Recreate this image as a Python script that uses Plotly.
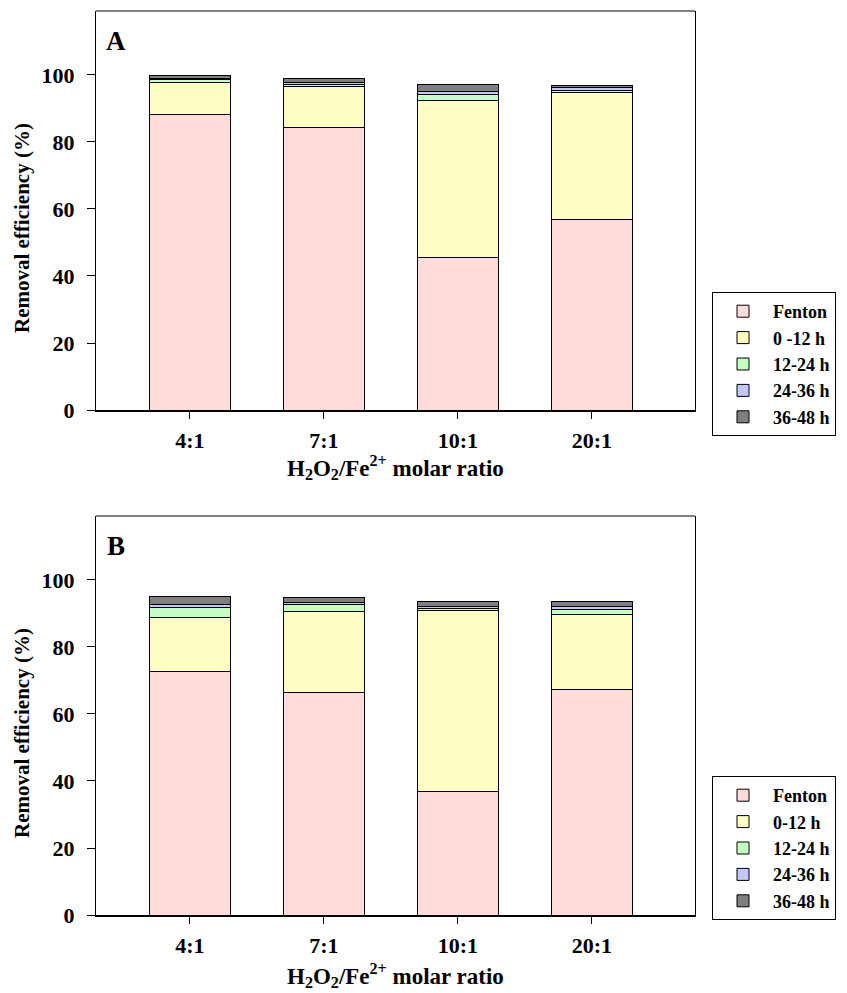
import plotly.graph_objects as go

categories = ["4:1", "7:1", "10:1", "20:1"]

series_names_a = ["Fenton", "0 -12 h", "12-24 h", "24-36 h", "36-48 h"]
series_names_b = ["Fenton", "0-12 h", "12-24 h", "24-36 h", "36-48 h"]

# Panel A values (%)
a_fenton = [88.2, 84.2, 45.4, 57.0]
a_0_12 = [9.5, 12.5, 47.1, 37.9]
a_12_24 = [1.0, 0.6, 1.8, 0.4]
a_24_36 = [0.4, 0.6, 0.9, 1.0]
a_36_48 = [0.8, 1.0, 2.1, 0.5]

# Panel B values (%)
b_fenton = [72.7, 66.3, 37.0, 67.3]
b_0_12 = [16.0, 24.4, 54.0, 22.3]
b_12_24 = [3.1, 2.1, 0.6, 1.7]
b_24_36 = [1.0, 0.5, 0.6, 0.8]
b_36_48 = [2.4, 1.6, 1.5, 1.6]

colors = ["#FFDCDC", "#FFFFC4", "#C4FFC4", "#C6C6FF", "#7F7F7F"]

FONT = "Liberation Serif, Times New Roman, serif"

fig = go.Figure()

a_series = [a_fenton, a_0_12, a_12_24, a_24_36, a_36_48]
b_series = [b_fenton, b_0_12, b_12_24, b_24_36, b_36_48]

for name, vals, col in zip(series_names_a, a_series, colors):
    fig.add_trace(go.Bar(x=categories, y=vals, name=name, marker=dict(color=col, line=dict(color="black", width=1)),
                         width=0.6, xaxis="x", yaxis="y", legend="legend"))
for name, vals, col in zip(series_names_b, b_series, colors):
    fig.add_trace(go.Bar(x=categories, y=vals, name=name, marker=dict(color=col, line=dict(color="black", width=1)),
                         width=0.6, xaxis="x2", yaxis="y2", legend="legend2"))

xdom = [96 / 847, 695 / 847]
ydom_a = [1 - 410 / 993, 1 - 11 / 993]
ydom_b = [1 - 915 / 993, 1 - 516 / 993]

tickfont = dict(family=FONT, size=22, color="black", weight="bold")

common_x = dict(domain=xdom, range=[-0.7, 3.77], showline=True, linewidth=2, linecolor="black",
                ticks="outside", ticklen=7, tickwidth=1, tickcolor="black", tickfont=tickfont,
                ticklabelstandoff=3,
                showgrid=False, zeroline=False, automargin=False)
common_y = dict(range=[0, 119.1], showline=True, linewidth=1, linecolor="black", mirror=True,
                ticks="outside", ticklen=8, tickwidth=1, tickcolor="black", tickfont=tickfont,
                ticklabelstandoff=8,
                tickvals=[0, 20, 40, 60, 80, 100], showgrid=False, zeroline=False, automargin=False)

legend_common = dict(font=dict(family=FONT, size=18, color="black", weight="bold"),
                     bordercolor="black", borderwidth=1, bgcolor="white", traceorder="normal",
                     xanchor="left", yanchor="top", itemwidth=50, tracegroupgap=0)

fig.update_layout(
    width=847, height=993,
    margin=dict(l=0, r=0, t=0, b=0),
    paper_bgcolor="white", plot_bgcolor="white",
    barmode="stack",
    font=dict(family=FONT, color="black"),
    xaxis=dict(anchor="y", **common_x),
    yaxis=dict(anchor="x", domain=ydom_a, **common_y),
    xaxis2=dict(anchor="y2", **common_x),
    yaxis2=dict(anchor="x2", domain=ydom_b, **common_y),
    legend=dict(x=712 / 847, y=1 - 292 / 993, **legend_common),
    legend2=dict(x=712 / 847, y=1 - 776 / 993, **legend_common),
    showlegend=True,
)

# top frame lines
for xr, yr in [("x domain", "y domain"), ("x2 domain", "y2 domain")]:
    fig.add_shape(type="line", xref=xr, yref=yr, x0=0, x1=1, y0=1, y1=1, line=dict(color="black", width=1))

ann_font = dict(family=FONT, size=21, color="black", weight="bold")
xt_font = dict(family=FONT, size=23, color="black", weight="bold")
xc = (96 + 695) / 2 / 847
for label, ypix in [("A", 41), ("B", 546)]:
    fig.add_annotation(text=label, x=116 / 847, y=1 - ypix / 993, xref="paper", yref="paper", showarrow=False,
                       xanchor="center", yanchor="middle",
                       font=dict(family=FONT, size=27, color="black", weight="bold"))
for ytitle, xtitle in [(1 - 228 / 993, 1 - 467 / 993), (1 - 733 / 993, 1 - 975 / 993)]:
    fig.add_annotation(text="Removal efficiency (%)", x=22 / 847, y=ytitle, xref="paper", yref="paper",
                       showarrow=False, textangle=-90, xanchor="center", yanchor="middle", font=ann_font)
    fig.add_annotation(text="H<sub>2</sub>O<sub>2</sub>/Fe<sup>2+</sup> molar ratio", x=xc, y=xtitle,
                       xref="paper", yref="paper", showarrow=False, xanchor="center", yanchor="middle",
                       font=xt_font)

fig.write_html("out.html")
